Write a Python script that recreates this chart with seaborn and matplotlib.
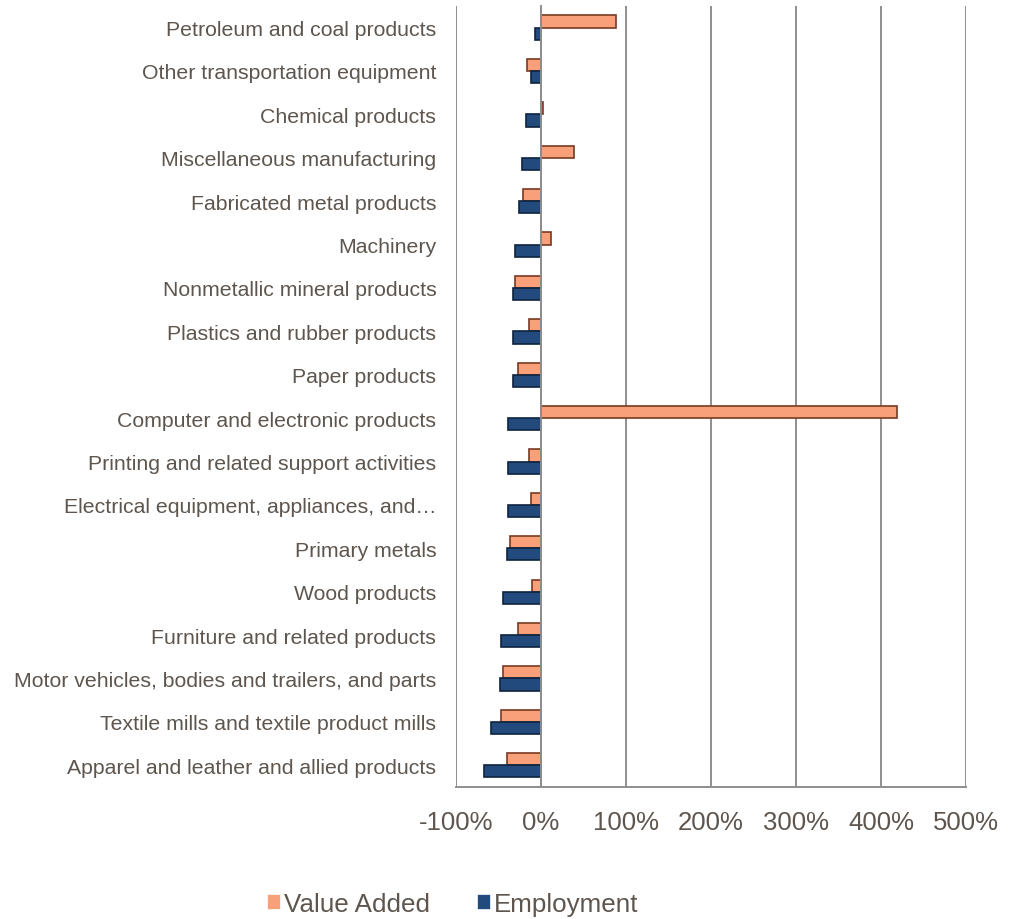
import matplotlib
matplotlib.use("Agg")
import matplotlib.pyplot as plt
from matplotlib.ticker import FuncFormatter
import numpy as np
import pandas as pd
import seaborn as sns

industries = [
    "Petroleum and coal products",
    "Other transportation equipment",
    "Chemical products",
    "Miscellaneous manufacturing",
    "Fabricated metal products",
    "Machinery",
    "Nonmetallic mineral products",
    "Plastics and rubber products",
    "Paper products",
    "Computer and electronic products",
    "Printing and related support activities",
    "Electrical equipment, appliances, and\u2026",
    "Primary metals",
    "Wood products",
    "Furniture and related products",
    "Motor vehicles, bodies and trailers, and parts",
    "Textile mills and textile product mills",
    "Apparel and leather and allied products",
]
# percent change
value_added = [88, -16, 3, 39, -21, 12, -30, -14, -27, 418, -14, -12, -36, -10, -27, -45, -47, -40]
employment = [-7, -11, -18, -22, -26, -30, -33, -33, -33, -38, -38, -39, -40, -44, -47, -48, -59, -67]
series = ["Value Added", "Employment"]

text_col = "#5E564E"
grid_col = "#8E8E8E"
va_col, va_edge = "#F8A07A", "#7A3A22"
emp_col, emp_edge = "#234A7C", "#0E2440"

df = pd.concat([
    pd.DataFrame({"industry": industries, "value": value_added, "series": series[0]}),
    pd.DataFrame({"industry": industries, "value": employment, "series": series[1]}),
])

sns.set_style("white")
plt.rcParams["font.family"] = ["Liberation Sans", "DejaVu Sans"]
plt.rcParams["text.color"] = text_col

fig = plt.figure(figsize=(10.15, 9.2), dpi=100)
ax = fig.add_axes([0.449, 0.1435, 0.503, 0.849])

sns.barplot(data=df, x="value", y="industry", hue="series", hue_order=series,
            order=industries, orient="h", palette=[va_col, emp_col],
            saturation=1, width=0.56, gap=0, ax=ax, linewidth=1.2)
for cont, ec in zip(ax.containers, [va_edge, emp_edge]):
    for bar in cont:
        bar.set_edgecolor(ec)

handles, labels = ax.get_legend_handles_labels()
ax.get_legend().remove()

n = len(industries)
ax.set_xlim(-100, 500)
ax.set_ylim(n - 0.5, -0.5)
ax.set_xticks(range(-100, 501, 100))
ax.xaxis.set_major_formatter(FuncFormatter(lambda v, p: f"{v:.0f}%"))
ax.tick_params(axis="x", length=5, width=1.4, color=grid_col, direction="out",
               pad=11.5, labelsize=18.5, labelcolor=text_col)
ax.grid(axis="x", color=grid_col, linewidth=1.4)
ax.set_axisbelow(True)

# category axis crosses at zero, with ticks between categories
ax.spines["left"].set_position(("data", 0))
ax.spines["left"].set_color(grid_col)
ax.spines["left"].set_linewidth(1.4)
ax.spines["bottom"].set_color(grid_col)
ax.spines["bottom"].set_linewidth(1.4)
ax.spines["top"].set_visible(False)
ax.spines["right"].set_visible(False)
ax.tick_params(axis="y", which="major", length=0, labelleft=False)
ax.set_yticks(np.arange(-0.5, n, 1), minor=True)
ax.tick_params(axis="y", which="minor", length=5, width=1.4, color=grid_col, direction="out")
ax.set_xlabel("")
ax.set_ylabel("")

# labels sit at the left edge of the plot
sec = ax.secondary_yaxis("left")
sec.set_yticks(range(n), labels=industries)
sec.tick_params(length=0, pad=14, labelsize=15.3, labelcolor=text_col)
sec.spines["left"].set_visible(False)

fig.legend(handles, labels, loc="center", bbox_to_anchor=(0.446, 0.016),
           ncol=2, frameon=False, fontsize=18.7, handlelength=0.55,
           handleheight=0.55, handletextpad=0.1, columnspacing=1.8,
           labelcolor=text_col)

fig.savefig("out.png", dpi=100)
